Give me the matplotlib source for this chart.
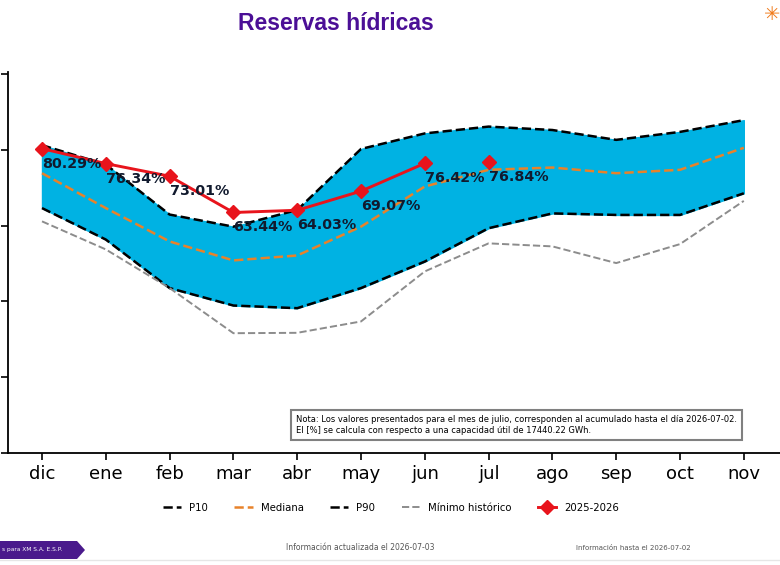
import matplotlib.pyplot as plt
from matplotlib.patches import Polygon

# datos (% de capacidad util)
meses = ['dic', 'ene', 'feb', 'mar', 'abr', 'may', 'jun', 'jul', 'ago', 'sep', 'oct', 'nov']
p90 = [81.2, 76.1, 62.9, 59.7, 64.1, 80.2, 84.3, 86.1, 85.2, 82.6, 84.7, 87.8]
p10 = [64.6, 56.3, 43.5, 38.9, 38.2, 43.5, 50.5, 59.3, 63.2, 62.8, 62.8, 68.5]
mediana = [73.8, 64.6, 55.8, 50.8, 52.1, 59.7, 70.3, 74.7, 75.3, 73.8, 74.7, 80.5]
minimo = [61.1, 53.7, 43.5, 31.6, 31.7, 34.7, 47.9, 55.3, 54.5, 50.1, 55.1, 66.5]
actual = [80.29, 76.34, 73.01, 63.44, 64.03, 69.07, 76.42]
julio = 76.84

x = list(range(len(meses)))

fig = plt.figure(figsize=(7.8, 5.65), dpi=100)
ax = fig.add_axes([8/780, 1-453/565, 1-8/780, (453-72)/565])

ax.fill_between(x, p10, p90, color='#00b2e3', zorder=1)
ax.plot(x, p10, color='black', ls='--', lw=1.8, label='P10', zorder=2)
ax.plot(x, mediana, color='#e8822a', ls='--', lw=1.8, label='Mediana', zorder=2)
ax.plot(x, p90, color='black', ls='--', lw=1.8, label='P90', zorder=2)
ax.plot(x, minimo, color='#8c8c8c', ls='--', lw=1.4, label='Mínimo histórico', zorder=2)
ax.plot(x[:len(actual)], actual, color='#e8141c', lw=2.1, marker='D', ms=7,
        label='2025-2026', zorder=3)
ax.plot([7], [julio], color='#e8141c', ls='none', marker='D', ms=7, zorder=3)

# etiquetas de porcentaje
vals = actual + [julio]
for i, v in enumerate(vals):
    ax.annotate(f'{v:.2f}%', (i, v), xytext=(0, -8), textcoords='offset pixels',
                ha='left', va='top', fontsize=10.3, fontweight='bold', color='#111a2e', zorder=4)

ax.set_xlim(-34/63.8, (780-42)/63.8)
ax.set_ylim(0, 100.5)
ax.set_yticks([0, 20, 40, 60, 80, 100])
ax.set_yticklabels([])
ax.set_xticks(x)
ax.set_xticklabels(meses, fontsize=13)
ax.tick_params(axis='both', length=5, width=1.2)
ax.spines['top'].set_visible(False)
ax.spines['right'].set_visible(False)
ax.spines['left'].set_linewidth(1.3)
ax.spines['bottom'].set_linewidth(1.3)

# nota
ax.text(0.373, 0.073,
        'Nota: Los valores presentados para el mes de julio, corresponden al acumulado hasta el día 2026-07-02.\n'
        'El [%] se calcula con respecto a una capacidad útil de 17440.22 GWh.',
        transform=ax.transAxes, fontsize=6.05, va='center', ha='left', linespacing=1.3,
        bbox=dict(boxstyle='square,pad=0.6', fc='white', ec='#808080', lw=1.5), zorder=5)

fig.legend(loc='center', bbox_to_anchor=(391/780, 1-508/565), ncol=5, frameon=False,
           fontsize=7.3, handlelength=1.8, columnspacing=2.6)

fig.text(336/780, 1-24/565, 'Reservas hídricas', ha='center', va='center',
         fontsize=16.5, fontweight='bold', color='#4b0f96', family='Liberation Sans')

# pie de pagina
fig.patches.append(Polygon([(0, 1-541/565), (77/780, 1-541/565), (85/780, 1-550/565),
                            (77/780, 1-559/565), (0, 1-559/565)], closed=True,
                           transform=fig.transFigure, fc='#4a1a8c', ec='none'))
fig.text(2/780, 1-550/565, 's para XM S.A. E.S.P.', color='white', fontsize=4.2,
         va='center', ha='left')
fig.text(360/780, 1-548/565, 'Información actualizada el 2026-07-03', color='#555555',
         fontsize=5.5, ha='center', va='center')
fig.text(633/780, 1-548/565, 'Información hasta el 2026-07-02', color='#555555',
         fontsize=5, ha='center', va='center')
fig.add_artist(plt.Line2D([0, 1], [1-560/565, 1-560/565], color='#e6e6e6', lw=1,
                          transform=fig.transFigure))
fig.text(772/780, 1-15/565, '✳', color='#f07a1a', fontsize=14, ha='center', va='center',
         family='DejaVu Sans')

fig.savefig('out.png', dpi=100)
